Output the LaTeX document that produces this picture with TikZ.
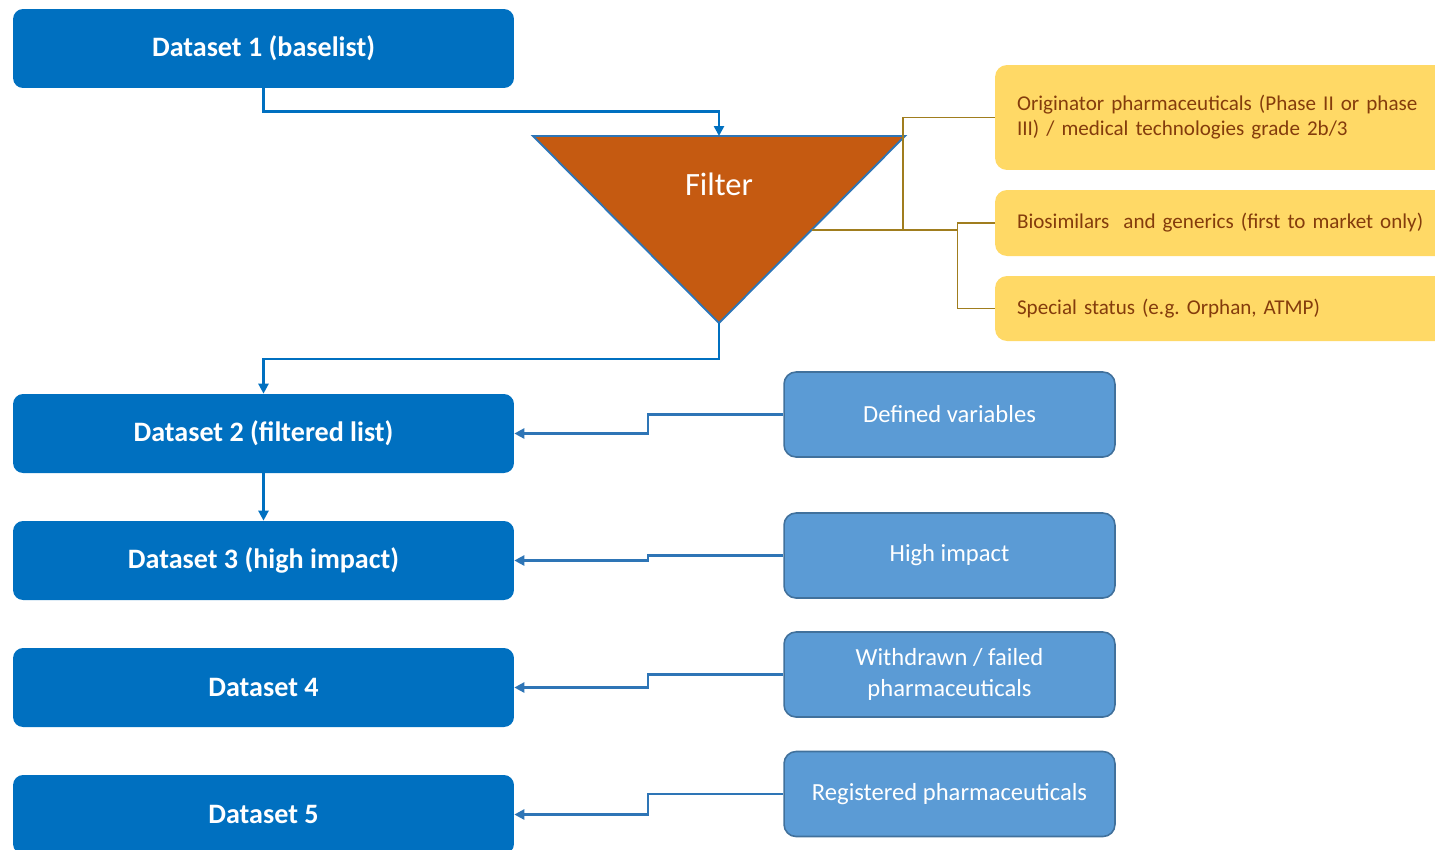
\documentclass[tikz,border=0pt]{standalone}
\usepackage{fontspec}
\setmainfont{Carlito}
\usetikzlibrary{arrows.meta,calc}
\definecolor{dsblue}{HTML}{0070C0}
\definecolor{lblue}{HTML}{5B9BD5}
\definecolor{lbedge}{HTML}{41719C}
\definecolor{lnblue}{HTML}{2E75B6}
\definecolor{filt}{HTML}{C55A11}
\definecolor{ylw}{HTML}{FFD966}
\definecolor{ytext}{HTML}{843C0C}
\definecolor{brn}{RGB}{160,125,30}
\tikzset{
  dsbox/.style={rectangle, rounded corners=0.2cm, fill=dsblue, text=white,
    font=\fontsize{16}{19}\selectfont\bfseries,
    minimum width=10.02cm, minimum height=1.58cm, inner sep=0pt},
  varbox/.style={rectangle, rounded corners=0.24cm, fill=lblue, draw=lbedge, line width=0.9pt,
    text=white, font=\fontsize{14}{17.5}\selectfont, align=center,
    minimum width=6.62cm, minimum height=1.7cm, inner sep=0pt},
  critbox/.style={rectangle, rounded corners=0.24cm, fill=ylw, text=ytext,
    font=\fontsize{12}{14.2}\selectfont, align=left, text width=8.32cm,
    inner xsep=0.44cm, inner ysep=0pt, minimum width=9.2cm},
  flow/.style={draw=dsblue, line width=1.4pt, -{Triangle[length=0.2cm,width=0.2cm]}},
  feed/.style={draw=lnblue, line width=1.4pt, -{Triangle[length=0.2cm,width=0.2cm]}},
  crit/.style={draw=brn, line width=0.8pt},
}
\begin{document}
\frenchspacing
\begin{tikzpicture}[x=0.02cm, y=-0.02cm]
\useasboundingbox (0,0) rectangle (1435,849);
\clip (0,0) rectangle (1435,849);

% datasets
\node[dsbox] (ds1) at (263.5,48.5) {Dataset 1 (baselist)};
\node[dsbox] (ds2) at (263.5,433.5) {Dataset 2 (filtered list)};
\node[dsbox] (ds3) at (263.5,560.5) {Dataset 3 (high impact)};
\node[dsbox] (ds4) at (263.5,687.5) {Dataset 4};
\node[dsbox] (ds5) at (263.5,814.5) {Dataset 5};

% filter funnel
\coordinate (tl) at (533,136);
\coordinate (tr) at (905,136);
\coordinate (tb) at (719,323);
\coordinate (ttop) at (719,136);
\coordinate (tj) at (811.5,230);
\coordinate (jx) at (903,230);
\filldraw[fill=filt, draw=lnblue, line width=1.1pt, line join=miter] (tl) -- (tr) -- (tb) -- cycle;
\node[text=white, font=\fontsize{18.5}{22}\selectfont] (flt) at (719,184) {Filter};

% filter criteria
\node[critbox, minimum height=2.1cm] (orig) at (1225,117.5)
  {Originator pharmaceuticals (Phase II or phase\\III) / medical technologies grade 2b/3};
\node[critbox, minimum height=1.32cm] (bio) at (1225,223)
  {Biosimilars\ \ and generics (first to market only)};
\node[critbox, minimum height=1.3cm] (spec) at (1225,308.5)
  {Special status (e.g. Orphan, ATMP)};

% variable sources
\node[varbox] (dv) at (949.5,414.5) {Defined variables};
\node[varbox] (hi) at (949.5,555.5) {High impact};
\node[varbox] (wf) at (949.5,674.5) {Withdrawn / failed\\pharmaceuticals};
\node[varbox] (rp) at (949.5,794) {Registered pharmaceuticals};

% main flow
\draw[flow] (ds1.south) -- ++(0,23) -| (ttop);
\draw[flow] (tb) -- ++(0,36) -| (ds2.north);
\draw[flow] (ds2.south) -- (ds3.north);

% criteria into the filter
\draw[crit] (orig.west) -| (jx);
\draw[crit] (bio.west) -- ++(-37,0) |- (tj);
\draw[crit] (spec.west) -- ++(-37,0) |- (tj);

% variables feeding datasets
\draw[feed] (dv.west) -- ++(-135,0) |- (ds2.east);
\draw[feed] (hi.west) -- ++(-135,0) |- (ds3.east);
\draw[feed] (wf.west) -- ++(-135,0) |- (ds4.east);
\draw[feed] (rp.west) -- ++(-135,0) |- (ds5.east);
\end{tikzpicture}
\end{document}
